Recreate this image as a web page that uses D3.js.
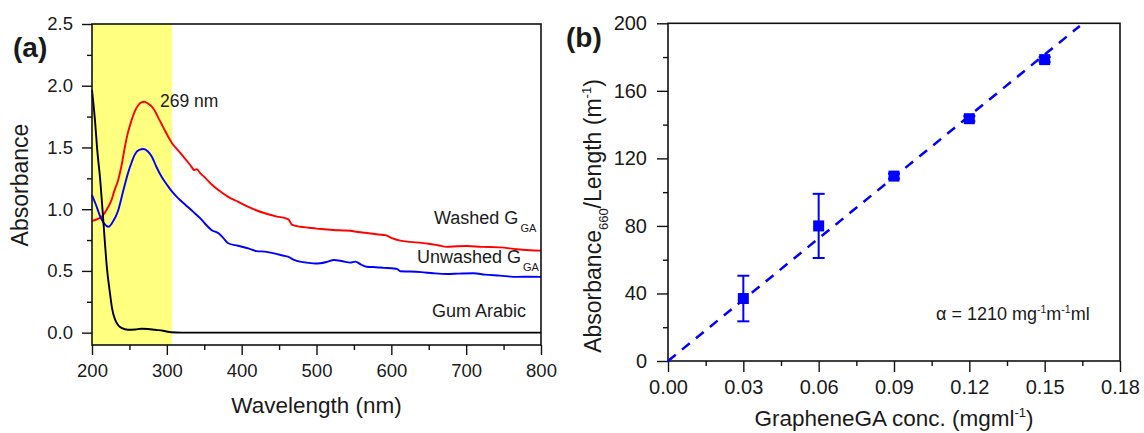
<!DOCTYPE html>
<html>
<head>
<meta charset="utf-8">
<script src="https://cdn.jsdelivr.net/npm/d3@7"></script>
<style>
  html, body { margin: 0; padding: 0; background: #fff; }
  svg { display: block; }
  text { font-family: "Liberation Sans", Arial, sans-serif; fill: #1a1a1a; }
</style>
</head>
<body>
<svg id="fig" width="1144" height="433"></svg>
<script>
// UV-vis spectra, panel (a): [wavelength nm, absorbance]
const washedGA = [
  [200,0.905],[207,0.92],[213,0.94],[220,1.00],[226,1.074],[230,1.15],[235,1.236],[240,1.37],
  [244,1.506],[248,1.62],[253,1.722],[257,1.79],[262,1.844],[266,1.865],[270,1.87],[275,1.855],
  [280,1.83],[285,1.785],[289,1.736],[293,1.69],[297,1.641],[302,1.585],[307,1.534],[316,1.47],
  [324,1.412],[331,1.36],[337,1.317],[340,1.323],[345,1.29],[352,1.25],[360,1.20],[369,1.155],
  [382,1.10],[395,1.061],[412,1.01],[431,0.967],[447,0.94],[459,0.926],[463,0.915],[467,0.875],
  [478,0.858],[490,0.85],[500,0.843],[510,0.838],[522,0.832],[535,0.828],[545,0.825],[555,0.815],
  [570,0.805],[583,0.795],[592,0.79],[600,0.768],[612,0.745],[625,0.735],[640,0.727],[650,0.72],
  [662,0.708],[674,0.695],[688,0.70],[701,0.702],[720,0.695],[745,0.691],[768,0.675],[785,0.668],
  [800,0.664]
];
const unwashedGA = [
  [200,1.115],[205,1.04],[211,0.94],[216,0.885],[222,0.858],[228,0.90],[235,0.99],[242,1.155],
  [248,1.29],[253,1.38],[257,1.44],[263,1.48],[269,1.487],[275,1.465],[280,1.425],[286,1.344],
  [293,1.263],[300,1.20],[307,1.142],[315,1.09],[324,1.04],[335,0.98],[347,0.912],[353,0.87],
  [360,0.83],[369,0.805],[375,0.77],[382,0.724],[395,0.704],[410,0.68],[420,0.66],[431,0.656],
  [445,0.64],[455,0.625],[462,0.615],[470,0.59],[478,0.575],[490,0.565],[498,0.56],[505,0.562],
  [515,0.575],[523,0.589],[535,0.578],[545,0.567],[552,0.575],[560,0.55],[567,0.534],[580,0.53],
  [590,0.525],[603,0.52],[608,0.515],[612,0.497],[625,0.495],[640,0.49],[656,0.481],[674,0.475],
  [690,0.478],[710,0.481],[725,0.47],[745,0.462],[768,0.452],[785,0.453],[800,0.452]
];
const gumArabic = [
  [200,1.965],[202,1.85],[204,1.72],[207,1.48],[211,1.236],[214,1.0],[217,0.75],[220,0.52],
  [224,0.32],[227,0.19],[231,0.103],[235,0.06],[240,0.036],[248,0.023],[258,0.026],[266,0.032],
  [275,0.03],[284,0.023],[295,0.015],[306,0.003],[320,0],[800,0]
];
const highlightBand = [200, 307];          // shaded UV region, nm
const peakLabel = "269 nm";
const wavelengthTicks = [200, 300, 400, 500, 600, 700, 800];
const absorbanceTicks = [0, 0.5, 1.0, 1.5, 2.0, 2.5];

// Calibration, panel (b)
const concentration = [0.03, 0.06, 0.09, 0.12, 0.15];   // mg/ml
const absPerLength  = [37, 80, 109.5, 143.5, 178.5];    // m^-1
const absError      = [13.5, 19, 1.5, 1.5, 1.5];
const alphaCoeff = 1210;                                  // slope of linear fit
const fitRange = [0, 0.164];
const concTicks = [0, 0.03, 0.06, 0.09, 0.12, 0.15, 0.18];
const absLenTicks = [0, 40, 80, 120, 160, 200];

const svg = d3.select("#fig");
svg.append("rect").attr("width", 1144).attr("height", 433).attr("fill", "#fff");

const XTITLE_FONT = 22.5, YTITLE_FONT = 23;

function styleAxis(g, fs) {
  g.select(".domain").remove();
  g.selectAll(".tick line").attr("stroke", "#111").attr("stroke-width", 1.4);
  g.selectAll(".tick text").style("font-size", fs + "px").attr("fill", "#1a1a1a");
}

function drawAxes(sel, x, y, cfg) {
  const [x0, x1] = x.range(), [y0, y1] = y.range();
  // minor ticks
  sel.append("g").attr("transform", `translate(0,${y0})`)
    .call(d3.axisBottom(x).tickValues(cfg.xMinor).tickSize(5).tickFormat(""))
    .call(g => styleAxis(g, cfg.fs));
  sel.append("g").attr("transform", `translate(${x0},0)`)
    .call(d3.axisLeft(y).tickValues(cfg.yMinor).tickSize(5).tickFormat(""))
    .call(g => styleAxis(g, cfg.fs));
  // major ticks with labels
  sel.append("g").attr("transform", `translate(0,${y0})`)
    .call(d3.axisBottom(x).tickValues(cfg.xTicks).tickSize(cfg.major).tickPadding(cfg.xPad).tickFormat(cfg.xFmt))
    .call(g => styleAxis(g, cfg.fs));
  sel.append("g").attr("transform", `translate(${x0},0)`)
    .call(d3.axisLeft(y).tickValues(cfg.yTicks).tickSize(cfg.major).tickPadding(cfg.yPad).tickFormat(cfg.yFmt))
    .call(g => styleAxis(g, cfg.fs));
  // frame
  sel.append("rect")
    .attr("x", x0).attr("y", y1).attr("width", x1 - x0).attr("height", y0 - y1)
    .attr("fill", "none").attr("stroke", "#111").attr("stroke-width", 1.6);
}

// ---------------- Panel (a) ----------------
const xA = d3.scaleLinear().domain([200, 800]).range([92, 541]);
const yA = d3.scaleLinear().domain([-0.1, 2.5]).range([345, 24]);
const pA = svg.append("g");

pA.append("rect")
  .attr("x", xA(highlightBand[0])).attr("y", yA(2.5))
  .attr("width", xA(highlightBand[1]) - xA(highlightBand[0]))
  .attr("height", yA(-0.1) - yA(2.5))
  .attr("fill", "#ffff80");

const lineA = d3.line().x(d => xA(d[0])).y(d => yA(d[1])).curve(d3.curveMonotoneX);
[[washedGA, "#ff0000"], [unwashedGA, "#0000ff"], [gumArabic, "#000000"]].forEach(([data, c]) => {
  pA.append("path").datum(data).attr("d", lineA)
    .attr("fill", "none").attr("stroke", c).attr("stroke-width", 1.9).attr("stroke-linejoin", "round");
});

drawAxes(pA, xA, yA, {
  xTicks: wavelengthTicks, yTicks: absorbanceTicks,
  xMinor: d3.range(250, 800, 100), yMinor: [0.25, 0.75, 1.25, 1.75, 2.25],
  major: 10, xPad: 9, yPad: 9, fs: 18.5,
  xFmt: d3.format("d"), yFmt: d3.format(".1f")
});

pA.append("text").attr("x", 160).attr("y", 106.5).style("font-size", "17.5px").attr("fill", "#2a2a2a").text(peakLabel);

const lblW = pA.append("text").attr("x", 434).attr("y", 224).style("font-size", "18px");
lblW.append("tspan").text("Washed G");
lblW.append("tspan").attr("dx", 2).attr("dy", 8).style("font-size", "11px").text("GA");

const lblU = pA.append("text").attr("x", 417).attr("y", 262.7).style("font-size", "18px");
lblU.append("tspan").text("Unwashed G");
lblU.append("tspan").attr("dx", 2).attr("dy", 8).style("font-size", "11px").text("GA");

pA.append("text").attr("x", 526).attr("y", 316.7).attr("text-anchor", "end").style("font-size", "18px").text("Gum Arabic");

pA.append("text").attr("x", 316.5).attr("y", 413).attr("text-anchor", "middle")
  .style("font-size", XTITLE_FONT + "px").text("Wavelength (nm)");
pA.append("text").attr("transform", "translate(28,185) rotate(-90)").attr("text-anchor", "middle")
  .style("font-size", YTITLE_FONT + "px").text("Absorbance");

svg.append("text").attr("x", 13).attr("y", 57).style("font-size", "28px").style("font-weight", "bold").text("(a)");

// ---------------- Panel (b) ----------------
const xB = d3.scaleLinear().domain([0, 0.18]).range([668, 1120]);
const yB = d3.scaleLinear().domain([0, 200]).range([361, 23.3]);
const pB = svg.append("g");

drawAxes(pB, xB, yB, {
  xTicks: concTicks, yTicks: absLenTicks,
  xMinor: d3.range(0.015, 0.18, 0.03), yMinor: d3.range(20, 200, 40),
  major: 11, xPad: 8, yPad: 10, fs: 20,
  xFmt: d3.format(".2f"), yFmt: d3.format("d")
});

// linear fit through origin
pB.append("line")
  .attr("x1", xB(fitRange[0])).attr("y1", yB(alphaCoeff * fitRange[0]))
  .attr("x2", xB(fitRange[1])).attr("y2", yB(alphaCoeff * fitRange[1]))
  .attr("stroke", "#0000ff").attr("stroke-width", 2.5).attr("stroke-dasharray", "10,8");

const pts = concentration.map((c, i) => ({ c, v: absPerLength[i], e: absError[i] }));
const bars = pB.append("g").attr("stroke", "#0000ff").attr("stroke-width", 2);
bars.selectAll("line.v").data(pts).join("line")
  .attr("x1", d => xB(d.c)).attr("x2", d => xB(d.c))
  .attr("y1", d => yB(d.v - d.e)).attr("y2", d => yB(d.v + d.e));
bars.selectAll("line.t").data(pts).join("line")
  .attr("x1", d => xB(d.c) - 6).attr("x2", d => xB(d.c) + 6)
  .attr("y1", d => yB(d.v + d.e)).attr("y2", d => yB(d.v + d.e));
bars.selectAll("line.b").data(pts).join("line")
  .attr("x1", d => xB(d.c) - 6).attr("x2", d => xB(d.c) + 6)
  .attr("y1", d => yB(d.v - d.e)).attr("y2", d => yB(d.v - d.e));
pB.selectAll("rect.pt").data(pts).join("rect")
  .attr("x", d => xB(d.c) - 5.5).attr("y", d => yB(d.v) - 5.5)
  .attr("width", 11).attr("height", 11).attr("fill", "#0000ff");

const alphaTxt = pB.append("text").attr("x", 936).attr("y", 320).style("font-size", "18px");
alphaTxt.append("tspan").text("\u03b1 = 1210 mg");
alphaTxt.append("tspan").attr("dy", -7).style("font-size", "10.5px").text("-1");
alphaTxt.append("tspan").attr("dy", 7).text("m");
alphaTxt.append("tspan").attr("dy", -7).style("font-size", "10.5px").text("-1");
alphaTxt.append("tspan").attr("dy", 7).text("ml");

const xtB = pB.append("text").attr("x", 894).attr("y", 426).attr("text-anchor", "middle").style("font-size", XTITLE_FONT + "px");
xtB.append("tspan").text("GrapheneGA conc. (mgml");
xtB.append("tspan").attr("dy", -9).style("font-size", "13px").text("-1");
xtB.append("tspan").attr("dy", 9).text(")");

const ytB = pB.append("text").attr("transform", "translate(601,216) rotate(-90)").attr("text-anchor", "middle").style("font-size", YTITLE_FONT + "px");
ytB.append("tspan").text("Absorbance");
ytB.append("tspan").attr("dy", 7).style("font-size", "13px").text("660");
ytB.append("tspan").attr("dy", -7).text("/Length (m");
ytB.append("tspan").attr("dy", -10).style("font-size", "13px").text("-1");
ytB.append("tspan").attr("dy", 10).text(")");

svg.append("text").attr("x", 566).attr("y", 47).style("font-size", "28px").style("font-weight", "bold").text("(b)");
</script>
</body>
</html>
